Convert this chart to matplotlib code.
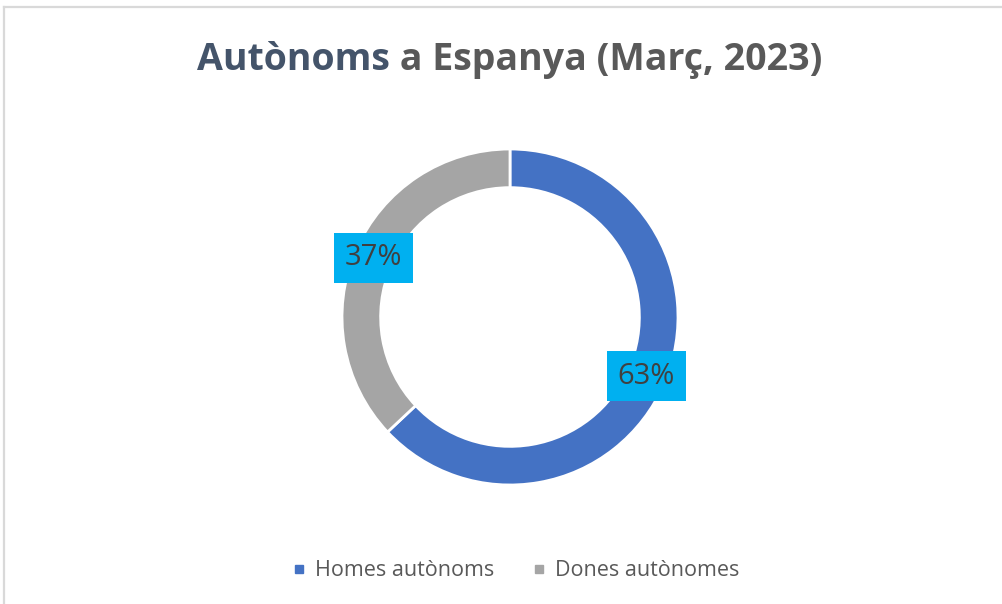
import numpy as np
import matplotlib
matplotlib.use("Agg")
from matplotlib import pyplot as plt
from matplotlib.lines import Line2D

plt.rcParams['font.family'] = ['Open Sans', 'DejaVu Sans']

categories = ['Homes autònoms', 'Dones autònomes']
shares = [63, 37]
colors = ['#4472C4', '#A5A5A5']
title_main = 'Autònoms'
title_rest = ' a Espanya (Març, 2023)'

W, H = 1002, 604
fig = plt.figure(figsize=(W / 100, H / 100), dpi=100)

def px_box(left, top, right, bottom):
    return [left / W, 1 - bottom / H, (right - left) / W, (bottom - top) / H]

# chart area border (cropped on right/bottom)
fig.add_artist(Line2D([4 / W, 4 / W], [0, 1 - 7 / H], transform=fig.transFigure,
                      color='#D9D9D9', lw=1.6))
fig.add_artist(Line2D([4 / W, 1], [1 - 7 / H, 1 - 7 / H], transform=fig.transFigure,
                      color='#D9D9D9', lw=1.6))

ax = fig.add_axes(px_box(342, 149, 678, 485))
ring = 0.23
wedges, _ = ax.pie(shares, colors=colors, startangle=90, counterclock=False,
                   radius=1, wedgeprops=dict(width=ring, edgecolor='white', linewidth=2))
ax.set_xlim(-1, 1)
ax.set_ylim(-1, 1)
ax.set_aspect('equal')
ax.axis('off')

total = sum(shares)
for w, v in zip(wedges, shares):
    ang = np.deg2rad((w.theta1 + w.theta2) / 2)
    r = 1 - ring / 2
    ax.text(r * np.cos(ang), r * np.sin(ang), f"{round(100 * v / total)}%",
            ha='center', va='center', fontsize=21, color='#404040',
            bbox=dict(boxstyle='square,pad=0.36', facecolor='#00B0F0', edgecolor='none'))

# two-coloured title, centred
fig.canvas.draw()
r = fig.canvas.get_renderer()
ty = 1 - 60 / H
t1 = fig.text(0, ty, title_main, fontsize=27, fontweight='bold', color='#44546A', va='center')
t2 = fig.text(0, ty, title_rest, fontsize=27, fontweight='bold', color='#595959', va='center')
w1 = t1.get_window_extent(r).width
w2 = t2.get_window_extent(r).width
x0 = 510 - (w1 + w2) / 2
t1.set_x(x0 / W)
t2.set_x((x0 + w1) / W)

handles = [Line2D([], [], marker='s', linestyle='none', markersize=6, color=c) for c in colors]
fig.legend(handles, categories, loc='center', bbox_to_anchor=(516 / W, 1 - 571 / H),
           ncol=2, frameon=False, fontsize=15.5, labelcolor='#595959',
           handlelength=0.6, handletextpad=0.45, columnspacing=1.8)

fig.savefig('out.png', dpi=100, facecolor='white')
